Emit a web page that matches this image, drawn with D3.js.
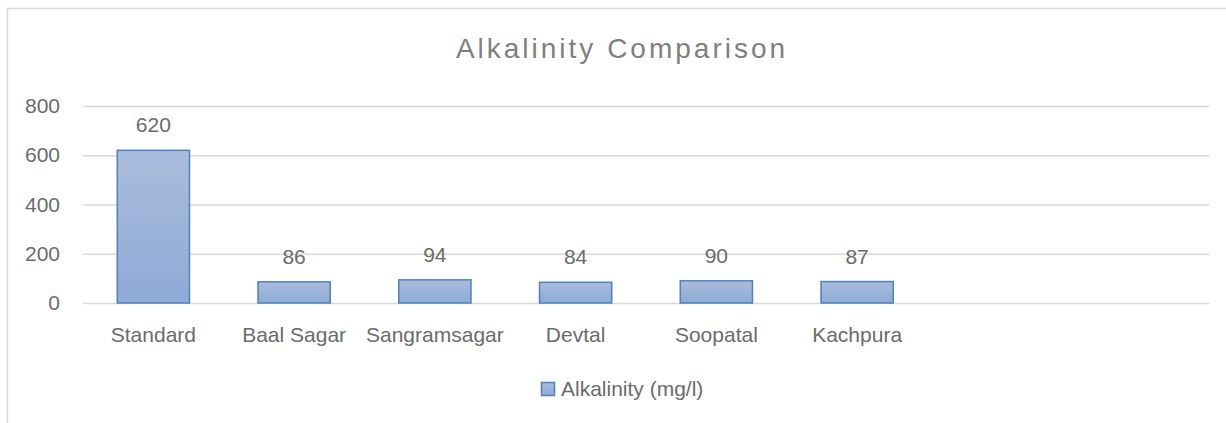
<!DOCTYPE html>
<html>
<head>
    <meta charset="utf-8">
    <title>Alkalinity Comparison</title>
    <script src="https://cdn.jsdelivr.net/npm/d3@7"></script>
    <style>
        body{
            margin: 0;
            background: #ffffff;
        }
        svg{
            display: block;
            font-family: "Liberation Sans", Arial, sans-serif;
        }
        .tick text{
            fill: #6b6b6b;
        }
    </style>
</head>
<body>
<svg width="1226" height="423"></svg>
<script>
    // data
    var categories = ["Standard", "Baal Sagar", "Sangramsagar", "Devtal", "Soopatal", "Kachpura"];
    var values = [620, 86, 94, 84, 90, 87];
    var slots = 8; // two empty category slots on the right
    var yTicks = [0, 200, 400, 600, 800];
    var seriesName = "Alkalinity (mg/l)";

    var svg = d3.select("svg");
    var plotLeft = 83, plotRight = 1209, plotTop = 106, plotBottom = 303;

    // gradient for the bars
    var defs = svg.append("defs");
    var grad = defs.append("linearGradient")
        .attr("id", "barFill")
        .attr("x1", 0).attr("y1", 0).attr("x2", 0).attr("y2", 1);
    grad.append("stop").attr("offset", "0%").attr("stop-color", "#aabcdb");
    grad.append("stop").attr("offset", "100%").attr("stop-color", "#8eaad6");

    // chart border (only left and top visible)
    svg.append("rect")
        .attr("x", 7.5).attr("y", 8.5)
        .attr("width", 1240).attr("height", 440)
        .attr("fill", "none")
        .attr("stroke", "#d9d9d9")
        .attr("stroke-width", 1.5);

    var x = d3.scaleBand()
        .domain(d3.range(slots))
        .range([plotLeft, plotRight])
        .paddingInner(0.487)
        .paddingOuter(0.2435);

    var y = d3.scaleLinear()
        .domain([0, 800])
        .range([plotBottom, plotTop]);

    // gridlines
    var grid = svg.append("g")
        .attr("transform", "translate(" + plotLeft + ",0)")
        .call(d3.axisLeft(y).tickValues(yTicks).tickSize(-(plotRight - plotLeft)).tickFormat(""));
    grid.select(".domain").remove();
    grid.selectAll("line").attr("stroke", "#d9d9d9").attr("stroke-width", 1.5);

    // y axis labels
    var yAxis = svg.append("g")
        .attr("transform", "translate(60,0)")
        .call(d3.axisLeft(y).tickValues(yTicks).tickSize(0).tickPadding(0));
    yAxis.select(".domain").remove();
    yAxis.selectAll("text")
        .style("font-size", "21px")
        .style("font-family", "Liberation Sans, Arial, sans-serif");

    // bars
    svg.selectAll("rect.bar")
        .data(values)
        .enter()
        .append("rect")
        .attr("class", "bar")
        .attr("x", function(d, i) { return x(i); })
        .attr("y", function(d) { return y(d); })
        .attr("width", x.bandwidth())
        .attr("height", function(d) { return y(0) - y(d); })
        .attr("fill", "url(#barFill)")
        .attr("stroke", "#4f81bd")
        .attr("stroke-width", 1.5);

    // value labels
    svg.selectAll("text.val")
        .data(values)
        .enter()
        .append("text")
        .attr("class", "val")
        .attr("x", function(d, i) { return x(i) + x.bandwidth() / 2; })
        .attr("y", function(d) { return y(d) - 18; })
        .attr("text-anchor", "middle")
        .attr("fill", "#6b6b6b")
        .style("font-size", "21px")
        .text(function(d) { return d; });

    // x axis category labels
    var xAxis = svg.append("g")
        .attr("transform", "translate(0," + plotBottom + ")")
        .call(d3.axisBottom(x).tickSize(0).tickPadding(24).tickFormat(function(i) { return categories[i] || ""; }));
    xAxis.select(".domain").remove();
    xAxis.selectAll("text")
        .style("font-size", "21px")
        .style("font-family", "Liberation Sans, Arial, sans-serif");

    // title
    svg.append("text")
        .attr("x", 622)
        .attr("y", 58)
        .attr("text-anchor", "middle")
        .attr("fill", "#7f7f7f")
        .style("font-size", "28px")
        .style("letter-spacing", "3px")
        .text("Alkalinity Comparison");

    // legend
    svg.append("rect")
        .attr("x", 541.5).attr("y", 382.5)
        .attr("width", 13).attr("height", 13)
        .attr("fill", "url(#barFill)")
        .attr("stroke", "#4f81bd")
        .attr("stroke-width", 1.5);
    svg.append("text")
        .attr("x", 561)
        .attr("y", 396)
        .attr("fill", "#6b6b6b")
        .style("font-size", "21px")
        .text(seriesName);
</script>
</body>
</html>
